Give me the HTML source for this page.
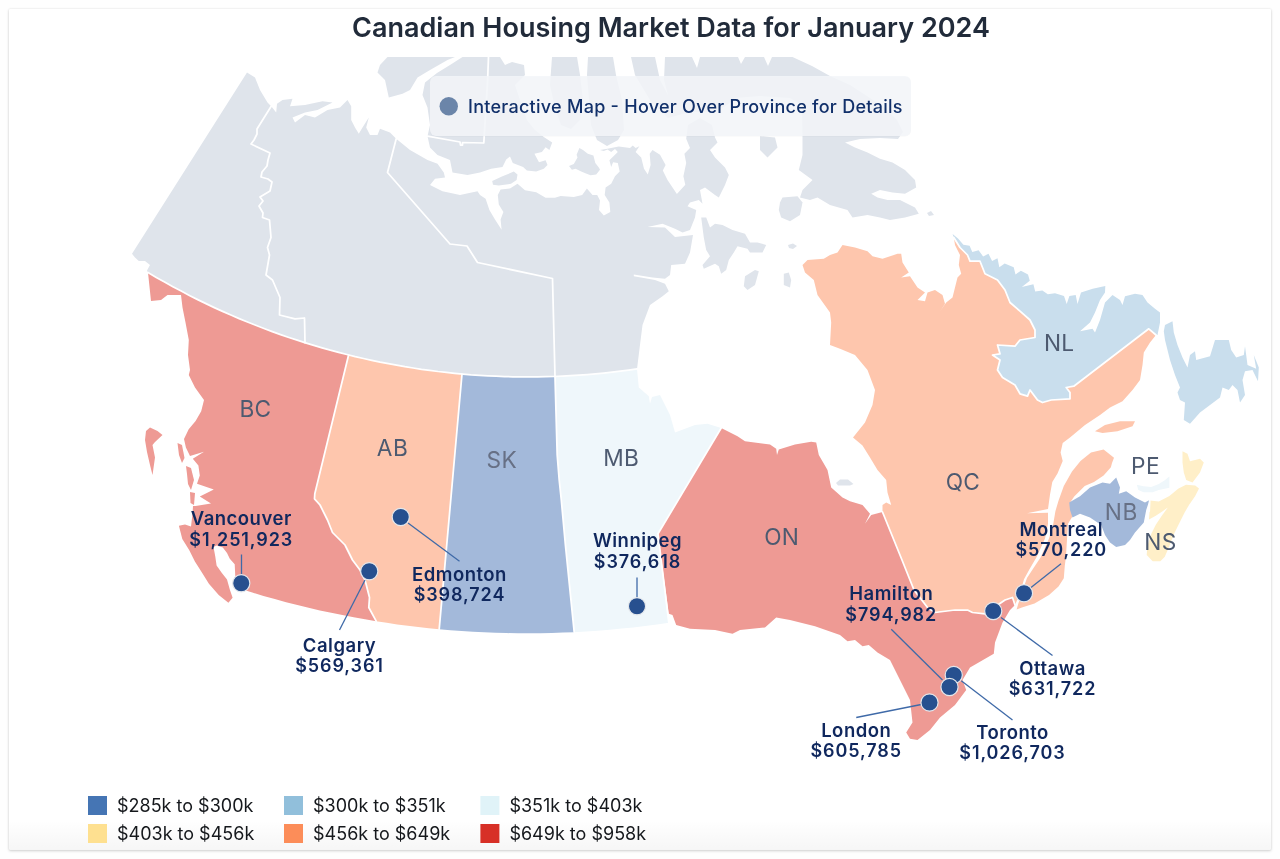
<!DOCTYPE html>
<html lang="en"><head><meta charset="utf-8"><title>Canadian Housing Market Data for January 2024</title>
<style>
html,body{margin:0;padding:0;}
body{width:1280px;height:859px;background:#fefefe;overflow:hidden;position:relative;font-family:Inter, "Liberation Sans", sans-serif;}
.card{position:absolute;left:9px;top:9px;width:1262px;height:841px;background:#fff;border-radius:1px;box-shadow:0 1px 3px rgba(0,0,0,0.17),0 0 2px rgba(0,0,0,0.10);}
svg{position:absolute;left:0;top:0;}
svg text{font-family:Inter, "Liberation Sans", sans-serif;}
.prov{stroke:none;}
.bord{fill:none;stroke:#fff;stroke-width:1.75;stroke-linejoin:round;stroke-linecap:round;}
.terr{fill:#dfe4eb;stroke:none;}
.isl{fill:#dfe4eb;}
.plabel{font-size:22.7px;fill:#4d5a70;text-anchor:middle;letter-spacing:0.4px;}
.city{font-size:18px;font-weight:600;fill:#10285e;text-anchor:middle;letter-spacing:0.5px;}
.lead{stroke:#3f6aa8;stroke-width:1.3;fill:none;}
.dot{fill:#27508f;stroke:#e3e7ec;stroke-width:1.2;}
.leg{font-size:18px;fill:#15181c;}
</style></head><body>
<div class="card"></div>
<svg width="1280" height="859" viewBox="0 0 1280 859">
<defs><linearGradient id="bg" x1="0" y1="0" x2="0" y2="1"><stop offset="0" stop-color="#000" stop-opacity="0"/><stop offset="1" stop-color="#000" stop-opacity="0.035"/></linearGradient><clipPath id="mapclip"><rect x="9" y="57" width="1262" height="700"/></clipPath></defs>
<g clip-path="url(#mapclip)">

<path class="isl" d="M387.5,57.0 L380.0,65.0 L377.5,72.5 L385.0,80.0 L388.8,97.5 L402.5,93.8 L410.0,90.0 L417.5,77.5 L430.0,70.0 L447.5,60.0 L455.0,57.0Z"/>
<path class="isl" d="M462.5,57.0 L500.0,57.0 L505.0,65.0 L512.0,62.0 L524.0,65.0 L525.0,75.0 L515.0,85.0 L520.0,100.0 L526.9,120.0 L534.4,129.4 L543.8,136.9 L552.2,142.5 L549.4,150.0 L545.6,147.2 L541.9,151.9 L534.4,153.8 L539.0,162.2 L545.6,160.3 L547.5,165.0 L543.8,168.8 L536.2,171.6 L526.9,170.6 L523.1,166.9 L512.8,163.1 L510.0,156.6 L506.2,159.4 L502.5,166.9 L491.2,168.8 L480.0,172.5 L467.5,175.0 L452.5,172.5 L450.0,160.0 L437.5,155.0 L430.0,147.5 L427.5,136.2 L430.0,125.0 L427.5,107.5 L422.5,95.0 L425.0,82.5 L437.0,73.0 L450.0,65.0Z"/>
<path class="isl" d="M569.0,166.0 L573.8,164.0 L577.5,157.5 L576.6,154.7 L579.4,148.0 L583.0,150.0 L587.8,153.8 L593.4,155.6 L595.3,163.0 L599.0,167.8 L600.0,169.7 L596.2,174.4 L590.6,175.3 L586.0,173.4 L581.2,171.6 L575.6,168.8 L571.9,169.7Z"/>
<path class="isl" d="M492.2,181.0 L502.5,176.2 L513.8,171.6 L517.5,174.4 L516.6,180.0 L511.0,183.8 L504.4,184.7 L498.8,185.6 L493.0,184.7Z"/>
<path class="isl" d="M552.0,57.0 L577.0,57.0 L580.0,75.0 L583.0,100.0 L580.0,120.0 L571.0,129.0 L561.0,125.0 L555.0,108.0 L550.0,85.0Z"/>
<path class="isl" d="M588.0,57.0 L613.0,57.0 L616.0,75.0 L622.0,100.0 L624.0,130.0 L618.0,140.0 L607.0,146.0 L597.0,140.0 L591.0,125.0 L589.0,100.0 L587.0,75.0Z"/>
<path class="isl" d="M631.0,57.0 L635.0,75.0 L650.0,100.0 L668.0,118.0 L690.0,112.0 L715.0,112.0 L727.0,105.0 L735.0,98.0 L760.0,96.0 L790.0,98.0 L802.0,105.0 L802.5,137.5 L802.5,155.0 L798.8,170.0 L812.5,180.0 L802.5,190.0 L800.0,197.5 L810.0,200.0 L817.5,197.5 L830.0,205.0 L847.5,210.0 L852.5,217.5 L867.5,215.0 L880.0,217.5 L890.0,220.0 L905.0,217.5 L918.8,213.8 L915.0,207.5 L900.0,200.0 L887.5,200.0 L877.5,197.5 L871.2,193.8 L880.0,190.0 L892.5,192.5 L905.0,193.8 L916.2,187.5 L915.0,180.0 L905.0,170.0 L892.5,162.5 L880.0,158.8 L867.5,152.5 L855.0,147.5 L845.0,142.5 L860.0,139.0 L880.0,138.0 L898.0,139.0 L903.0,132.0 L897.0,120.0 L885.0,108.0 L870.0,98.0 L850.0,85.0 L830.0,76.0 L812.0,66.0 L792.5,57.0 L772.0,57.0 L768.0,66.0 L764.0,57.0 L745.0,57.0 L741.0,64.0 L738.0,57.0 L700.0,57.0 L697.0,68.0 L692.0,57.0 L665.0,57.0 L664.0,80.0 L668.0,95.0 L660.0,80.0 L655.0,57.0Z"/>
<path class="isl" d="M780.0,202.5 L782.5,197.5 L797.5,196.2 L802.5,202.5 L800.0,215.0 L790.0,221.2 L781.2,217.5 L778.8,210.0Z"/>
<path class="isl" d="M760.0,136.2 L775.0,137.5 L777.5,147.5 L767.5,157.5 L760.0,150.0Z"/>
<path class="isl" d="M701.2,217.5 L703.8,237.5 L706.2,250.0 L710.0,256.2 L702.5,265.0 L703.8,268.8 L715.0,263.8 L718.8,266.2 L721.2,273.8 L726.2,270.0 L728.8,260.0 L733.8,252.5 L737.5,246.2 L747.5,248.8 L750.0,252.5 L762.5,252.5 L766.2,245.0 L757.5,242.5 L750.0,242.5 L745.0,233.8 L732.5,230.0 L722.5,225.0 L715.0,223.8 L710.0,227.5 L706.2,217.5Z"/>
<path class="isl" d="M745.0,276.2 L755.0,270.0 L758.8,271.2 L755.0,285.0 L747.5,290.0 L743.8,286.2Z"/>
<path class="isl" d="M783.8,273.8 L788.8,272.5 L791.2,280.0 L790.0,287.5 L783.8,285.0Z"/>
<path class="isl" d="M836.0,483.0 L840.0,479.5 L848.0,479.5 L853.5,484.0 L850.0,485.5 L838.0,485.5Z"/>
<path class="isl" d="M927.0,213.0 L931.0,211.0 L934.0,215.0 L929.0,216.0Z"/>
<path class="isl" d="M788.0,245.0 L793.0,243.5 L797.0,246.0 L793.0,249.0 L789.0,248.0Z"/>
<path class="terr" d="M247.0,72.5 L255.0,77.5 L260.0,90.0 L267.5,102.5 L271.2,106.2 L257.0,129.0 L257.0,134.0 L254.0,140.0 L251.0,144.0 L270.0,153.0 L268.0,160.0 L267.0,166.0 L262.0,172.0 L261.0,177.0 L268.0,179.0 L272.0,182.0 L270.0,191.0 L260.0,197.0 L263.0,201.0 L259.0,206.0 L263.0,213.0 L262.5,217.5 L269.5,220.0 L271.0,237.5 L267.5,247.5 L269.5,255.0 L266.0,275.0 L272.5,280.0 L280.0,297.5 L279.5,315.0 L295.0,318.8 L304.5,318.0 L305.0,342.7 L293.8,339.1 L282.6,335.3 L271.4,331.3 L260.1,327.0 L248.9,322.6 L237.7,318.0 L226.5,313.1 L215.3,308.0 L204.1,302.7 L192.9,297.2 L181.6,291.4 L170.4,285.4 L159.2,279.1 L148.0,272.6 L147.0,270.5 L150.0,265.0 L145.0,261.0 L138.8,261.0 L135.0,257.5 L132.0,253.8Z"/>
<path class="terr" d="M271.2,106.2 L276.2,112.5 L277.0,103.8 L282.5,100.0 L292.5,98.8 L290.0,106.2 L305.0,105.0 L322.5,101.2 L332.5,102.5 L317.5,110.0 L305.0,112.5 L292.5,117.5 L295.0,122.5 L305.0,115.0 L315.0,117.5 L327.5,110.0 L340.0,107.5 L347.5,100.0 L351.2,106.2 L351.2,120.0 L355.0,127.5 L358.8,133.8 L362.5,127.5 L368.8,117.5 L366.2,127.5 L370.0,135.0 L377.5,135.0 L380.0,128.8 L390.0,132.5 L396.2,138.8 L387.5,172.5 L450.0,244.0 L467.0,246.0 L477.5,262.5 L552.5,278.5 L555.0,376.4 L543.1,376.8 L531.2,376.9 L519.3,376.9 L507.4,376.6 L495.5,376.2 L483.6,375.6 L471.7,374.8 L459.8,373.8 L447.9,372.6 L436.0,371.2 L424.0,369.6 L412.1,367.8 L400.2,365.9 L388.3,363.7 L376.4,361.3 L364.5,358.7 L352.6,356.0 L340.7,353.0 L328.8,349.8 L316.9,346.3 L305.0,342.7 L304.5,318.0 L295.0,318.8 L279.5,315.0 L280.0,297.5 L272.5,280.0 L266.0,275.0 L269.5,255.0 L267.5,247.5 L271.0,237.5 L269.5,220.0 L262.5,217.5 L263.0,213.0 L259.0,206.0 L263.0,201.0 L260.0,197.0 L270.0,191.0 L272.0,182.0 L268.0,179.0 L261.0,177.0 L262.0,172.0 L267.0,166.0 L268.0,160.0 L270.0,153.0 L251.0,144.0 L254.0,140.0 L257.0,134.0 L257.0,129.0Z"/>
<path class="terr" d="M396.2,138.8 L410.0,150.0 L427.5,160.0 L437.5,163.8 L443.8,172.5 L445.0,177.5 L435.0,178.8 L430.0,185.0 L442.5,191.2 L460.0,195.0 L477.5,191.2 L480.0,195.0 L485.6,198.8 L489.4,210.0 L495.0,219.4 L501.6,229.7 L500.6,219.4 L503.4,211.9 L498.8,204.4 L497.8,195.0 L500.6,189.4 L510.0,188.4 L517.5,183.8 L525.0,190.3 L536.2,192.2 L545.6,197.8 L555.0,197.8 L560.6,195.9 L573.8,196.9 L582.2,195.0 L586.9,188.4 L592.5,195.0 L597.2,195.0 L600.0,200.6 L599.0,210.0 L603.8,215.6 L610.3,211.9 L609.4,202.5 L604.7,195.0 L605.6,187.5 L611.2,183.8 L615.0,176.2 L619.7,171.6 L617.8,163.1 L613.1,162.2 L611.2,166.9 L609.4,160.3 L617.8,151.9 L615.0,149.0 L611.2,151.9 L607.5,149.5 L603.8,151.0 L600.0,150.0 L606.0,149.0 L618.8,146.5 L630.0,148.0 L632.8,145.5 L635.6,148.0 L639.4,146.2 L635.6,151.9 L641.2,157.5 L644.0,168.8 L647.8,174.4 L650.6,165.0 L649.7,153.8 L652.5,150.0 L660.0,154.7 L665.6,165.0 L662.8,170.6 L667.5,180.0 L676.9,194.0 L685.3,184.7 L683.4,176.2 L686.2,163.1 L684.4,153.8 L690.0,148.0 L686.2,138.8 L688.0,125.0 L700.0,118.0 L712.0,125.0 L715.0,137.5 L717.5,142.5 L710.0,150.0 L715.0,157.5 L725.0,167.5 L728.8,175.0 L725.0,185.0 L718.8,197.5 L715.0,195.0 L705.0,187.5 L700.0,190.0 L702.5,203.8 L698.8,200.0 L690.0,202.5 L687.5,206.2 L696.2,210.0 L695.0,217.5 L690.0,230.0 L682.5,232.5 L675.0,228.8 L662.5,223.8 L647.5,227.0 L665.0,227.5 L675.0,237.0 L693.0,235.0 L690.0,252.5 L685.0,263.8 L671.2,265.0 L670.0,275.0 L665.0,278.8 L652.5,277.5 L633.8,274.5 L633.8,276.2 L655.0,280.0 L665.0,283.8 L668.8,291.2 L662.5,296.2 L650.0,305.0 L642.5,325.0 L640.0,344.8 L637.0,368.9 L625.3,370.6 L613.6,372.0 L601.9,373.3 L590.1,374.3 L578.4,375.2 L566.7,375.9 L555.0,376.4 L552.5,278.5 L477.5,262.5 L467.0,246.0 L450.0,244.0 L387.5,172.5Z"/>
<path class="prov" fill="#ee9a94" d="M148.0,272.6 L159.8,279.4 L171.6,286.0 L183.4,292.3 L195.2,298.3 L207.0,304.1 L218.8,309.6 L230.6,314.9 L242.4,319.9 L254.2,324.7 L266.0,329.3 L277.8,333.6 L289.6,337.7 L301.4,341.6 L313.2,345.2 L325.0,348.7 L336.8,351.9 L348.6,355.0 L314.8,493.8 L314.5,498.8 L320.0,505.0 L327.5,520.0 L332.5,532.5 L342.5,542.5 L345.0,545.0 L352.5,560.0 L360.0,570.0 L365.0,580.0 L369.5,597.5 L368.8,607.5 L376.2,621.2 L365.0,619.3 L353.7,617.3 L342.4,615.1 L331.2,612.8 L319.9,610.4 L308.6,607.8 L297.4,605.1 L286.1,602.2 L274.8,599.1 L263.5,596.0 L252.3,592.6 L241.0,589.1 L236.5,583.0 L235.4,578.2 L234.7,564.2 L229.8,558.7 L227.0,553.0 L222.8,547.5 L216.5,545.5 L213.5,547.0 L215.2,555.9 L216.6,565.6 L221.5,572.6 L227.0,579.6 L229.8,589.4 L232.6,597.8 L228.4,602.7 L218.7,595.0 L208.9,583.8 L201.9,572.6 L194.9,561.5 L189.3,550.3 L182.3,539.1 L178.9,525.8 L185.0,524.5 L191.0,526.5 L192.5,514.0 L193.0,506.0 L195.6,506.0 L211.0,503.4 L199.8,496.4 L213.8,489.4 L197.0,483.8 L199.8,475.4 L198.4,465.6 L192.8,458.7 L204.0,451.7 L190.0,455.9 L185.9,447.5 L184.0,439.1 L188.7,429.3 L195.6,421.0 L201.2,411.2 L204.0,400.0 L195.0,387.5 L188.8,375.0 L190.0,370.0 L188.0,355.0 L188.8,340.0 L185.5,322.5 L182.5,307.5 L181.0,295.0 L167.5,295.0 L161.0,300.0 L151.0,301.0Z"/>
<path class="prov" fill="#ee9a94" d="M177.5,443.0 L182.0,445.0 L184.5,458.0 L182.0,463.0 L179.0,455.0Z"/>
<path class="prov" fill="#ee9a94" d="M186.0,466.0 L191.0,468.0 L194.0,480.0 L191.0,490.0 L188.0,484.0 L187.0,474.0Z"/>
<path class="prov" fill="#ee9a94" d="M190.0,492.0 L195.0,493.0 L194.0,505.0 L190.5,503.0Z"/>
<path class="" fill="#ee9a94" d="M146.0,431.0 L150.0,427.5 L157.5,431.0 L162.5,435.0 L155.0,442.0 L152.5,445.0 L155.0,457.5 L152.5,475.0 L150.0,465.0 L147.0,452.0 L145.0,440.0Z"/>
<path class="prov" fill="#fec6ad" d="M348.6,355.0 L359.9,357.7 L371.3,360.2 L382.6,362.6 L394.0,364.7 L405.3,366.7 L416.6,368.5 L428.0,370.2 L439.3,371.6 L450.7,372.9 L462.0,374.0 L439.2,629.2 L428.8,628.2 L418.2,627.0 L407.8,625.7 L397.2,624.4 L386.8,622.8 L376.2,621.2 L368.8,607.5 L369.5,597.5 L365.0,580.0 L360.0,570.0 L352.5,560.0 L345.0,545.0 L342.5,542.5 L332.5,532.5 L327.5,520.0 L320.0,505.0 L314.5,498.8 L314.8,493.8Z"/>
<path class="prov" fill="#a3b9da" d="M462.0,374.0 L473.6,374.9 L485.2,375.7 L496.9,376.3 L508.5,376.7 L520.1,376.9 L531.8,376.9 L543.4,376.8 L555.0,376.4 L557.2,455.0 L559.2,480.0 L561.3,500.0 L565.4,544.8 L574.2,632.2 L563.0,632.6 L551.7,633.0 L540.5,633.2 L529.2,633.3 L518.0,633.3 L506.7,633.1 L495.5,632.8 L484.2,632.3 L473.0,631.7 L461.7,631.0 L450.5,630.2 L439.2,629.2Z"/>
<path class="prov" fill="#eff7fb" d="M555.0,376.4 L566.7,375.9 L578.4,375.2 L590.1,374.3 L601.9,373.3 L613.6,372.0 L625.3,370.6 L637.0,368.9 L638.8,387.5 L648.8,396.2 L650.0,403.8 L652.0,397.0 L660.0,395.0 L670.0,415.0 L675.0,432.5 L695.0,425.0 L707.5,423.8 L721.2,428.0 L658.0,533.8 L668.8,622.7 L656.9,624.4 L645.1,626.0 L633.3,627.4 L621.5,628.6 L609.7,629.7 L597.8,630.7 L586.0,631.5 L574.2,632.2 L565.4,544.8 L561.3,500.0 L559.2,480.0 L557.2,455.0Z"/>
<path class="prov" fill="#ee9a94" d="M721.2,428.0 L737.5,436.2 L745.0,441.2 L770.0,444.5 L776.2,448.8 L777.0,455.0 L778.8,449.5 L795.0,444.5 L811.2,441.8 L816.2,442.5 L818.8,455.0 L827.5,470.0 L831.2,487.5 L842.5,497.5 L850.0,501.2 L862.5,505.0 L870.0,513.8 L865.0,523.8 L871.2,515.0 L882.5,512.0 L902.0,560.0 L914.0,590.0 L927.5,607.5 L935.0,612.5 L955.0,610.0 L967.5,610.0 L972.5,612.5 L985.0,613.8 L1005.0,600.0 L1012.5,597.5 L1015.0,605.0 L1010.0,610.0 L1002.5,622.5 L995.0,642.5 L993.8,653.8 L970.0,667.5 L962.5,680.0 L966.2,690.0 L955.0,705.0 L940.0,717.5 L930.0,730.0 L917.5,740.0 L910.0,738.8 L906.2,732.5 L912.5,722.5 L910.0,700.0 L900.0,680.0 L890.0,660.0 L877.5,652.5 L868.8,645.0 L862.5,646.2 L855.0,640.0 L847.5,641.2 L840.0,635.0 L815.0,626.2 L790.0,620.0 L776.2,617.5 L765.0,627.5 L740.0,630.0 L732.5,633.8 L715.0,630.0 L690.0,628.8 L676.2,625.0 L672.5,615.0 L668.8,613.8 L658.0,533.8Z"/>
<path class="prov" fill="#fec6ad" d="M882.5,512.0 L882.5,505.0 L886.2,502.5 L891.2,505.0 L887.5,492.5 L886.2,480.0 L877.5,470.0 L870.0,457.5 L862.5,445.5 L853.0,437.5 L865.0,422.5 L872.5,405.0 L875.0,390.0 L867.5,370.0 L855.0,355.0 L840.0,348.8 L830.0,345.0 L831.2,322.5 L830.0,312.5 L817.5,295.0 L813.8,280.0 L805.0,272.5 L802.5,265.0 L807.5,260.0 L823.8,258.8 L830.0,255.0 L837.5,252.5 L842.5,245.0 L855.0,247.5 L867.5,251.2 L872.5,256.2 L882.5,258.8 L897.5,253.8 L901.2,253.8 L902.5,262.5 L908.8,272.5 L901.2,277.5 L910.0,276.2 L917.5,287.5 L925.0,292.5 L917.5,300.0 L925.0,301.2 L927.5,292.5 L935.0,290.0 L942.5,295.0 L945.0,303.8 L940.0,311.2 L946.2,302.5 L952.5,297.5 L957.5,277.5 L961.2,273.8 L958.8,265.0 L960.0,255.0 L955.0,245.0 L953.8,237.5 L960.0,247.5 L967.5,255.0 L970.0,261.2 L980.0,261.2 L985.0,273.8 L997.5,280.0 L1005.0,290.0 L1010.0,302.5 L1020.0,311.2 L1030.0,320.0 L1035.0,330.0 L1035.0,337.5 L1020.0,340.0 L1015.0,346.2 L997.5,345.0 L1000.0,353.8 L992.5,355.0 L1000.0,360.0 L997.5,370.0 L1002.5,377.5 L1015.0,385.0 L1020.0,393.8 L1027.5,396.2 L1030.0,390.0 L1037.5,400.0 L1042.5,402.5 L1051.2,400.0 L1070.0,398.8 L1070.0,392.5 L1066.2,387.5 L1073.8,386.2 L1148.8,328.8 L1156.0,335.0 L1150.0,342.5 L1143.8,352.5 L1142.5,365.0 L1140.0,380.0 L1132.5,390.0 L1122.5,401.2 L1110.0,407.5 L1100.0,415.0 L1085.0,425.0 L1070.0,437.5 L1062.7,443.0 L1060.6,452.6 L1062.7,461.0 L1057.5,473.5 L1052.3,481.9 L1050.0,494.5 L1048.0,509.0 L1027.0,513.3 L1048.0,512.8 L1048.0,523.8 L1045.0,538.4 L1036.5,557.3 L1029.2,569.8 L1024.0,579.3 L1021.0,590.0 L1018.0,598.0 L1015.0,605.0 L1012.5,597.5 L1005.0,600.0 L985.0,613.8 L972.5,612.5 L967.5,610.0 L955.0,610.0 L935.0,612.5 L927.5,607.5 L914.0,590.0 L902.0,560.0Z"/>
<path class="prov" fill="#fec6ad" d="M1114.0,457.8 L1103.6,449.4 L1091.0,452.6 L1080.5,461.0 L1072.0,471.4 L1063.8,486.0 L1058.5,500.7 L1055.4,511.2 L1053.3,523.8 L1049.0,538.4 L1040.7,557.3 L1032.4,569.8 L1027.0,578.0 L1024.5,585.0 L1022.0,594.0 L1018.5,603.0 L1016.6,609.6 L1021.9,607.5 L1034.5,603.4 L1049.0,595.0 L1058.5,586.6 L1063.8,578.2 L1064.8,565.7 L1065.9,557.3 L1068.0,523.8 L1073.0,515.4 L1072.0,511.0 L1070.0,502.8 L1074.2,496.5 L1084.7,486.0 L1094.0,481.9 L1103.6,475.6 L1110.9,467.2 L1112.0,463.0Z"/>
<path class="" fill="#fec6ad" d="M1095.0,431.2 L1105.0,425.0 L1120.0,421.2 L1135.0,421.2 L1132.5,426.2 L1117.5,431.2 L1102.5,433.0Z"/>
<path class="prov" fill="#c9deed" d="M953.8,237.5 L952.6,234.0 L958.0,238.5 L963.4,244.8 L969.6,245.7 L972.3,252.0 L978.6,250.2 L983.1,256.4 L988.5,253.8 L992.1,261.0 L997.5,258.2 L999.3,267.2 L1004.7,263.6 L1013.7,267.2 L1015.5,274.4 L1020.9,270.8 L1028.0,274.4 L1029.8,280.7 L1021.8,287.0 L1033.4,284.3 L1035.2,291.5 L1042.4,290.6 L1047.8,294.2 L1055.0,293.3 L1064.0,296.0 L1066.7,304.0 L1069.4,296.0 L1075.7,295.0 L1077.5,304.0 L1081.0,292.4 L1092.7,288.8 L1105.3,286.1 L1105.0,292.5 L1100.0,300.0 L1095.0,312.5 L1090.0,322.5 L1080.0,331.2 L1092.5,328.8 L1095.0,332.5 L1100.0,320.0 L1105.0,302.5 L1112.5,295.0 L1120.0,300.0 L1122.5,305.0 L1125.0,296.2 L1135.0,293.8 L1142.5,295.0 L1147.5,302.5 L1155.0,308.8 L1160.0,312.5 L1160.0,322.5 L1157.5,335.0 L1156.0,335.0 L1148.8,328.8 L1073.8,386.2 L1066.2,387.5 L1070.0,392.5 L1070.0,398.8 L1051.2,400.0 L1042.5,402.5 L1037.5,400.0 L1030.0,390.0 L1027.5,396.2 L1020.0,393.8 L1015.0,385.0 L1002.5,377.5 L997.5,370.0 L1000.0,360.0 L992.5,355.0 L1000.0,353.8 L997.5,345.0 L1015.0,346.2 L1020.0,340.0 L1035.0,337.5 L1035.0,330.0 L1030.0,320.0 L1020.0,311.2 L1010.0,302.5 L1005.0,290.0 L997.5,280.0 L985.0,273.8 L980.0,261.2 L970.0,261.2 L967.5,255.0 L960.0,247.5Z"/>
<path class="" fill="#c9deed" d="M1165.0,325.0 L1172.5,321.2 L1173.8,332.5 L1177.5,345.0 L1182.5,357.5 L1187.5,367.5 L1190.0,355.0 L1195.0,351.2 L1196.2,360.0 L1210.0,356.2 L1215.0,340.0 L1228.8,340.0 L1231.2,350.0 L1236.2,357.5 L1243.8,355.0 L1245.0,346.2 L1246.2,355.0 L1247.5,365.0 L1256.2,368.8 L1253.8,355.0 L1258.8,367.5 L1258.0,381.2 L1252.5,370.0 L1245.0,371.2 L1242.5,380.0 L1245.0,395.0 L1240.0,402.5 L1237.5,390.0 L1232.5,385.0 L1228.8,390.0 L1222.5,387.5 L1220.0,397.5 L1210.0,405.0 L1200.0,412.5 L1190.0,423.8 L1183.8,420.0 L1185.0,402.5 L1180.0,400.0 L1177.5,392.5 L1180.0,387.5 L1175.0,375.0 L1170.0,360.0 L1165.0,340.0 L1163.8,331.2Z"/>
<path class="prov" fill="#a3b9da" d="M1069.2,502.5 L1080.0,496.2 L1090.0,487.5 L1102.5,482.5 L1110.0,483.8 L1116.2,477.5 L1120.0,487.5 L1118.8,493.8 L1126.2,491.2 L1135.0,497.5 L1145.0,502.5 L1149.5,500.0 L1146.2,510.0 L1143.8,522.5 L1135.0,532.5 L1130.0,540.0 L1125.0,545.0 L1116.2,547.0 L1110.0,542.5 L1105.0,535.0 L1101.2,525.0 L1090.0,517.5 L1080.0,513.8 L1072.5,517.5 L1070.0,510.0Z"/>
<path class="prov" fill="#ffefc8" d="M1150.0,500.6 L1158.8,501.4 L1169.4,496.0 L1178.5,488.5 L1186.0,484.7 L1195.2,485.5 L1199.0,488.5 L1195.2,496.0 L1189.0,505.0 L1184.5,512.7 L1178.5,524.8 L1174.0,534.0 L1169.4,546.0 L1164.8,556.7 L1160.3,561.2 L1152.7,561.2 L1146.7,555.0 L1147.4,546.0 L1151.2,534.0 L1155.8,524.8 L1161.8,515.8 L1167.9,507.4 L1162.6,511.2 L1155.8,515.8 L1149.0,519.5 L1149.7,509.7Z"/>
<path class="" fill="#ffefc8" d="M1182.5,451.2 L1187.5,453.8 L1190.0,461.2 L1200.0,458.8 L1203.8,462.5 L1200.0,472.5 L1192.5,482.5 L1186.2,480.0 L1183.8,472.5 L1182.5,462.5Z"/>
<path class="" fill="#eff7fb" d="M1136.8,484.7 L1138.3,490.0 L1143.6,492.3 L1152.7,492.3 L1158.8,490.0 L1169.4,487.7 L1169.4,476.4 L1164.8,480.2 L1158.8,483.9 L1151.2,487.0 L1143.6,486.2Z"/>
<path class="bord" d="M148.0,272.6 L156.3,277.4 L164.6,282.1 L172.9,286.7 L181.2,291.1 L189.4,295.4 L197.7,299.6 L206.0,303.6 L214.3,307.6 L222.6,311.4 L230.9,315.0 L239.2,318.6 L247.5,322.0 L255.7,325.3 L264.0,328.5 L272.3,331.6 L280.6,334.6 L288.9,337.5 L297.2,340.2 L305.5,342.9 L313.8,345.4 L322.1,347.8 L330.3,350.2 L338.6,352.4 L346.9,354.5 L355.2,356.6 L363.5,358.5 L371.8,360.3 L380.1,362.1 L388.4,363.7 L396.6,365.2 L404.9,366.7 L413.2,368.0 L421.5,369.3 L429.8,370.4 L438.1,371.5 L446.4,372.4 L454.7,373.3 L462.9,374.1 L471.2,374.8 L479.5,375.3 L487.8,375.8 L496.1,376.2 L504.4,376.6 L512.7,376.8 L521.0,376.9 L529.3,376.9 L537.5,376.9 L545.8,376.7 L554.1,376.5 L562.4,376.1 L570.7,375.7 L579.0,375.2 L587.3,374.6 L595.6,373.9 L603.8,373.1 L612.1,372.2 L620.4,371.2 L628.7,370.1 L637.0,368.9"/>
<path class="bord" d="M348.6,355.0 L314.8,493.8 L314.5,498.8 L320.0,505.0 L327.5,520.0 L332.5,532.5 L342.5,542.5 L345.0,545.0 L352.5,560.0 L360.0,570.0 L365.0,580.0 L369.5,597.5 L368.8,607.5 L376.2,621.2"/>
<path class="bord" d="M462.0,374.0 L439.2,629.2"/>
<path class="bord" d="M555.0,376.4 L557.2,455.0 L559.2,480.0 L561.3,500.0 L565.4,544.8 L574.2,632.2"/>
<path class="bord" d="M721.2,428.0 L658.0,533.8 L668.8,622.7"/>
<path class="bord" d="M882.5,512.0 L902.0,560.0 L914.0,590.0 L927.5,607.5 L935.0,612.5 L955.0,610.0 L967.5,610.0 L972.5,612.5 L985.0,613.8 L1005.0,600.0 L1012.5,597.5 L1015.0,605.0"/>
<path class="bord" d="M953.8,237.5 L960.0,247.5 L967.5,255.0 L970.0,261.2 L980.0,261.2 L985.0,273.8 L997.5,280.0 L1005.0,290.0 L1010.0,302.5 L1020.0,311.2 L1030.0,320.0 L1035.0,330.0 L1035.0,337.5 L1020.0,340.0 L1015.0,346.2 L997.5,345.0 L1000.0,353.8 L992.5,355.0 L1000.0,360.0 L997.5,370.0 L1002.5,377.5 L1015.0,385.0 L1020.0,393.8 L1027.5,396.2 L1030.0,390.0 L1037.5,400.0 L1042.5,402.5 L1051.2,400.0 L1070.0,398.8 L1070.0,392.5 L1066.2,387.5 L1073.8,386.2 L1148.8,328.8 L1156.0,335.0"/>
<path class="bord" d="M271.2,106.2 L257.0,129.0 L257.0,134.0 L254.0,140.0 L251.0,144.0 L270.0,153.0 L268.0,160.0 L267.0,166.0 L262.0,172.0 L261.0,177.0 L268.0,179.0 L272.0,182.0 L270.0,191.0 L260.0,197.0 L263.0,201.0 L259.0,206.0 L263.0,213.0 L262.5,217.5 L269.5,220.0 L271.0,237.5 L267.5,247.5 L269.5,255.0 L266.0,275.0 L272.5,280.0 L280.0,297.5 L279.5,315.0 L295.0,318.8 L304.5,318.0 L305.0,342.7"/>
<path class="bord" d="M396.2,138.8 L387.5,172.5 L450.0,244.0 L467.0,246.0 L477.5,262.5 L552.5,278.5 L555.0,376.4"/>
<path class="bord" d="M427.5,136.2 L460.0,142.0 L460.5,145.0 L462.5,145.0 L462.5,142.5 L483.8,143.0 L487.5,82.5 L488.5,57.0"/>
<path class="bord" d="M1149.8,498.5 L1149.2,511.0"/>
</g>
<text class="plabel" x="255.5" y="417.3" textLength="32.2" lengthAdjust="spacing">BC</text>
<text class="plabel" x="392.5" y="456.3" textLength="31.3" lengthAdjust="spacing">AB</text>
<text class="plabel" x="501.75" y="468.3" style="fill:#677085" textLength="30.6" lengthAdjust="spacing">SK</text>
<text class="plabel" x="621.25" y="466.3" textLength="36.1" lengthAdjust="spacing">MB</text>
<text class="plabel" x="781.75" y="545.3" textLength="35.2" lengthAdjust="spacing">ON</text>
<text class="plabel" x="963.0" y="489.8" textLength="34.7" lengthAdjust="spacing">QC</text>
<text class="plabel" x="1059.25" y="351.3" textLength="30.7" lengthAdjust="spacing">NL</text>
<text class="plabel" x="1145.5" y="474.3" textLength="28.9" lengthAdjust="spacing">PE</text>
<text class="plabel" x="1121.25" y="519.8" style="fill:#677085" textLength="32.8" lengthAdjust="spacing">NB</text>
<text class="plabel" x="1160.5" y="549.8" textLength="32.5" lengthAdjust="spacing">NS</text>
<line class="lead" x1="241.5" y1="554.5" x2="241.5" y2="578"/>
<line class="lead" x1="408" y1="523" x2="459.5" y2="561.25"/>
<line class="lead" x1="365" y1="580" x2="339.5" y2="630"/>
<line class="lead" x1="637" y1="577.5" x2="637" y2="600"/>
<line class="lead" x1="1031" y1="587.5" x2="1061" y2="563.75"/>
<line class="lead" x1="1001" y1="617.5" x2="1052.5" y2="655.5"/>
<line class="lead" x1="891.25" y1="629.25" x2="942.5" y2="680"/>
<line class="lead" x1="961.25" y1="680.75" x2="1012.5" y2="720"/>
<line class="lead" x1="921.25" y1="704.5" x2="856.25" y2="717.5"/>
<circle class="dot" cx="241.25" cy="583.25" r="8.6"/>
<circle class="dot" cx="400.75" cy="517" r="8.6"/>
<circle class="dot" cx="369.25" cy="571.25" r="8.6"/>
<circle class="dot" cx="637" cy="606.25" r="8.6"/>
<circle class="dot" cx="1024" cy="593.25" r="8.6"/>
<circle class="dot" cx="993.25" cy="611" r="8.6"/>
<circle class="dot" cx="953.75" cy="675" r="8.6"/>
<circle class="dot" cx="949.5" cy="687" r="8.6"/>
<circle class="dot" cx="929.5" cy="702.5" r="8.6"/>
<text class="city" x="241.25" y="525.3" style="font-size:18.5px" textLength="101.0" lengthAdjust="spacing">Vancouver</text><text class="city" x="241.25" y="545.7" style="letter-spacing:0.9px" textLength="103.9" lengthAdjust="spacing">$1,251,923</text>
<text class="city" x="459.5" y="580.8" style="font-size:18.5px" textLength="94.9" lengthAdjust="spacing">Edmonton</text><text class="city" x="459.5" y="601.2" style="letter-spacing:0.9px" textLength="91.7" lengthAdjust="spacing">$398,724</text>
<text class="city" x="339.5" y="651.55" style="font-size:18.5px" textLength="73.3" lengthAdjust="spacing">Calgary</text><text class="city" x="339.5" y="671.95" style="letter-spacing:0.9px" textLength="88.6" lengthAdjust="spacing">$569,361</text>
<text class="city" x="637.5" y="547.05" style="font-size:18.5px" textLength="89.2" lengthAdjust="spacing">Winnipeg</text><text class="city" x="637.5" y="568.2" style="letter-spacing:0.9px" textLength="87.3" lengthAdjust="spacing">$376,618</text>
<text class="city" x="1061.25" y="535.8" style="font-size:18.5px" textLength="83.7" lengthAdjust="spacing">Montreal</text><text class="city" x="1061.25" y="555.7" style="letter-spacing:0.9px" textLength="91.7" lengthAdjust="spacing">$570,220</text>
<text class="city" x="891.25" y="600.3" style="font-size:18.5px" textLength="84.0" lengthAdjust="spacing">Hamilton</text><text class="city" x="891.25" y="620.7" style="letter-spacing:0.9px" textLength="91.8" lengthAdjust="spacing">$794,982</text>
<text class="city" x="1052.5" y="674.55" style="font-size:18.5px" textLength="66.5" lengthAdjust="spacing">Ottawa</text><text class="city" x="1052.5" y="695.2" style="letter-spacing:0.9px" textLength="87.6" lengthAdjust="spacing">$631,722</text>
<text class="city" x="856.25" y="737.05" style="font-size:18.5px" textLength="70.2" lengthAdjust="spacing">London</text><text class="city" x="856.25" y="756.95" style="letter-spacing:0.9px" textLength="91.5" lengthAdjust="spacing">$605,785</text>
<text class="city" x="1012.5" y="738.8" style="font-size:18.5px" textLength="72.7" lengthAdjust="spacing">Toronto</text><text class="city" x="1012.5" y="759.45" style="letter-spacing:0.9px" textLength="106.4" lengthAdjust="spacing">$1,026,703</text>
<rect x="430" y="76.5" width="481" height="60" rx="6" fill="#000" fill-opacity="0.03"/><rect x="430" y="76" width="481" height="60" rx="6" fill="#f3f6f9" fill-opacity="0.86"/>
<circle cx="448.75" cy="106.25" r="9.2" fill="#6b85a9"/>
<text x="468" y="113" font-size="18" font-weight="550" fill="#11306a" textLength="434.5" lengthAdjust="spacing">Interactive Map - Hover Over Province for Details</text>
<text x="671" y="37" font-size="27" font-weight="600" fill="#212b3a" text-anchor="middle" textLength="638" lengthAdjust="spacing">Canadian Housing Market Data for January 2024</text>
<rect x="9" y="820" width="1262" height="30" fill="url(#bg)"/>
<rect x="88" y="796" width="19" height="19" fill="#4575b4"/><text class="leg" x="117" y="812" textLength="136.4" lengthAdjust="spacing">$285k to $300k</text>
<rect x="284" y="796" width="19" height="19" fill="#91bfdb"/><text class="leg" x="313" y="812" textLength="132.7" lengthAdjust="spacing">$300k to $351k</text>
<rect x="480.4" y="796" width="19" height="19" fill="#e0f3f8"/><text class="leg" x="509.4" y="812" textLength="133.0" lengthAdjust="spacing">$351k to $403k</text>
<rect x="88" y="824" width="19" height="19" fill="#fee090"/><text class="leg" x="117" y="840" textLength="137.3" lengthAdjust="spacing">$403k to $456k</text>
<rect x="284" y="824" width="19" height="19" fill="#fc8d59"/><text class="leg" x="313" y="840" textLength="137.2" lengthAdjust="spacing">$456k to $649k</text>
<rect x="480.4" y="824" width="19" height="19" fill="#d73027"/><text class="leg" x="509.4" y="840" textLength="136.7" lengthAdjust="spacing">$649k to $958k</text>
</svg></body></html>
